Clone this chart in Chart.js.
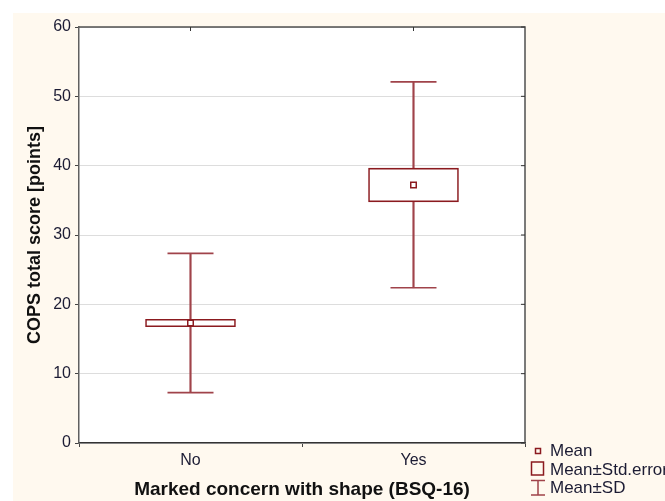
<!DOCTYPE html>
<html><head><meta charset="utf-8">
<script src="https://cdn.jsdelivr.net/npm/chart.js@4/dist/chart.umd.min.js"></script>
<style>html,body{margin:0;padding:0;background:#fff;}#wrap{width:665px;height:501px;position:relative;}</style>
</head><body><div id="wrap"><canvas id="c" width="665" height="501"></canvas></div>
<script>
const categories = ['No', 'Yes'];
const means = [17.3, 37.2];
const seLow = [16.77, 34.78];
const seHigh = [17.84, 39.64];
const sdLow = [7.26, 22.39];
const sdHigh = [27.35, 52.08];
const yTicks = [0, 10, 20, 30, 40, 50, 60];
const legendLabels = ['Mean', 'Mean±Std.error', 'Mean±SD'];
const xTitle = 'Marked concern with shape (BSQ-16)';
const yTitle = 'COPS total score [points]';

const RED = '#8b1a1f';
const WHISK = '#a0434a';
const TXT = '#1c1c34';
const FONT = "'Liberation Sans', Arial, sans-serif";

const bgPlugin = {
  id: 'bg',
  beforeDraw(chart) {
    const {ctx, chartArea: a} = chart;
    ctx.save();
    ctx.fillStyle = '#ffffff';
    ctx.fillRect(0, 0, chart.width, chart.height);
    ctx.fillStyle = '#fff9ef';
    ctx.fillRect(13, 13, chart.width - 13, chart.height - 13);
    ctx.fillStyle = '#ffffff';
    ctx.fillRect(a.left, a.top, a.right - a.left, a.bottom - a.top);
    ctx.restore();
  },
  afterDraw(chart) {
    const {ctx, chartArea: a, scales} = chart;
    ctx.save();
    // frame
    ctx.strokeStyle = '#505050';
    ctx.lineWidth = 1.5;
    ctx.beginPath();
    ctx.moveTo(a.left, a.top); ctx.lineTo(a.right, a.top); ctx.lineTo(a.right, a.bottom);
    ctx.stroke();
    // inner ticks top & right
    ctx.strokeStyle = '#333';
    ctx.lineWidth = 1;
    ctx.beginPath();
    categories.forEach((c, i) => {
      const x = scales.x.getPixelForValue(i);
      ctx.moveTo(x, a.top); ctx.lineTo(x, a.top + 4);
    });
    yTicks.forEach(v => {
      const y = scales.y.getPixelForValue(v);
      ctx.moveTo(a.right, y); ctx.lineTo(a.right - 4, y);
    });
    ctx.stroke();
    // legend
    ctx.strokeStyle = RED;
    ctx.lineWidth = 1.5;
    ctx.strokeRect(535.5, 448.5, 5, 5);
    ctx.strokeRect(531.5, 462, 12, 13);
    ctx.strokeStyle = WHISK;
    ctx.beginPath();
    ctx.moveTo(531, 480.5); ctx.lineTo(545, 480.5);
    ctx.moveTo(538, 480.5); ctx.lineTo(538, 495);
    ctx.moveTo(531, 495); ctx.lineTo(545, 495);
    ctx.stroke();
    ctx.fillStyle = TXT;
    ctx.font = '17px ' + FONT;
    ctx.textBaseline = 'alphabetic';
    ctx.textAlign = 'left';
    ctx.fillText(legendLabels[0], 550, 456);
    ctx.fillText(legendLabels[1], 550, 475);
    ctx.fillText(legendLabels[2], 550, 493);
    ctx.restore();
  }
};

new Chart(document.getElementById('c'), {
  type: 'bar',
  data: {
    labels: categories,
    datasets: [
      {
        type: 'line', label: 'Mean', data: means, showLine: false,
        pointStyle: 'rect', pointRadius: 3.9, pointBackgroundColor: '#fff',
        pointBorderColor: RED, pointBorderWidth: 1.5, order: 0
      },
      {
        type: 'bar', label: 'SE', data: categories.map((c, i) => [seLow[i], seHigh[i]]),
        backgroundColor: '#fff', borderColor: RED, borderWidth: 1.6, borderSkipped: false,
        barThickness: 90, grouped: false, order: 1
      },
      {
        type: 'line', label: 'SDhigh', data: sdHigh, showLine: false,
        pointStyle: 'line', pointRadius: 23, pointBorderColor: WHISK, pointBorderWidth: 1.6, order: 2
      },
      {
        type: 'line', label: 'SDlow', data: sdLow, showLine: false,
        pointStyle: 'line', pointRadius: 23, pointBorderColor: WHISK, pointBorderWidth: 1.6, order: 3
      },
      {
        type: 'bar', label: 'SD', data: categories.map((c, i) => [sdLow[i], sdHigh[i]]),
        backgroundColor: WHISK, borderWidth: 0, barThickness: 1.5, grouped: false, order: 4
      }
    ]
  },
  options: {
    responsive: false, animation: false, devicePixelRatio: 1,
    layout: { padding: { left: 21, top: 27, right: 140, bottom: 0 } },
    plugins: { legend: { display: false }, tooltip: { enabled: false } },
    scales: {
      x: {
        offset: true,
        grid: { drawOnChartArea: false, drawTicks: true, tickLength: 4, tickColor: '#444' },
        border: { color: '#333', width: 1.5 },
        ticks: { font: { family: FONT, size: 16 }, color: TXT, padding: 4 },
        title: { display: true, text: xTitle, color: '#111', padding: { top: 4, bottom: 0 }, font: { family: FONT, size: 19, weight: 'bold' } },
        afterFit: s => { s.height = 58; }
      },
      y: {
        min: 0, max: 60,
        afterBuildTicks: s => { s.ticks = yTicks.map(v => ({ value: v })); },
        grid: { color: '#dddddd', lineWidth: 1, tickLength: 4, tickColor: '#444' },
        border: { color: '#606060', width: 1.5 },
        ticks: { font: { family: FONT, size: 16 }, color: TXT, padding: 4 },
        title: { display: true, text: yTitle, color: '#111', padding: { top: 3, bottom: 4 }, font: { family: FONT, size: 18, weight: 'bold' } },
        afterFit: s => { s.width = 58; }
      }
    }
  },
  plugins: [bgPlugin]
});
</script></body></html>
